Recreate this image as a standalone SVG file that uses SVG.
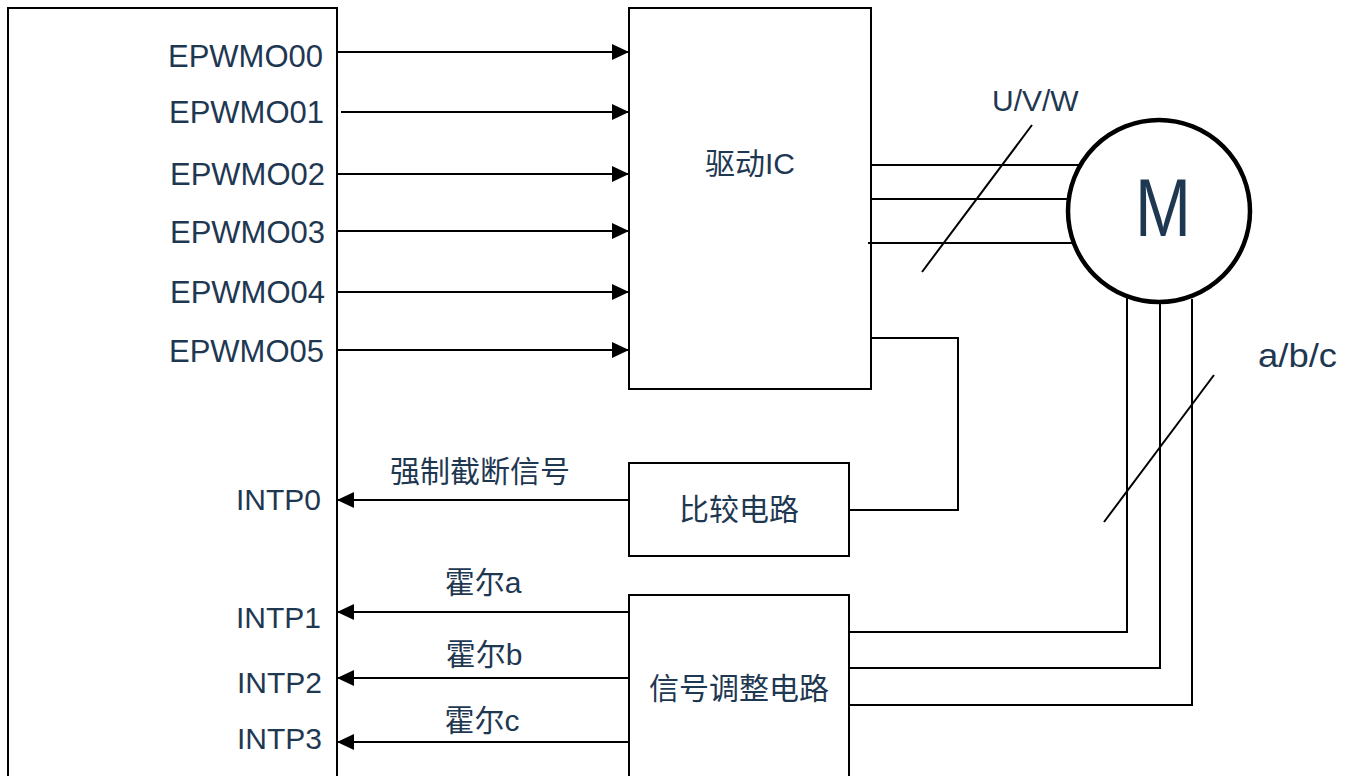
<svg xmlns="http://www.w3.org/2000/svg" width="1351" height="776" viewBox="0 0 1351 776">
<defs>
<style>
.box{fill:#fff;stroke:#000;stroke-width:2}
.ln{fill:none;stroke:#000;stroke-width:2}
.t{font-family:"Liberation Sans","Noto Sans CJK SC",sans-serif;font-size:30px;fill:#1F3852}
.p{font-size:31px}
.e{text-anchor:end}
.m{text-anchor:middle}
</style>
<marker id="ah" markerUnits="userSpaceOnUse" markerWidth="18" markerHeight="16" refX="17" refY="8" orient="auto">
<path d="M0,0 L17,8 L0,16 z" fill="#000"/>
</marker>
</defs>
<rect width="1351" height="776" fill="#fff"/>
<g id="mcu">
<rect class="box" x="8" y="8" width="329" height="800"/>
<text class="t p e" x="323" y="67">EPWMO00</text>
<text class="t p e" x="324" y="123">EPWMO01</text>
<text class="t p e" x="325" y="185">EPWMO02</text>
<text class="t p e" x="325" y="243">EPWMO03</text>
<text class="t p e" x="325" y="303">EPWMO04</text>
<text class="t p e" x="324" y="362">EPWMO05</text>
<text class="t e" x="321" y="510">INTP0</text>
<text class="t e" x="321" y="628">INTP1</text>
<text class="t e" x="322" y="693">INTP2</text>
<text class="t e" x="322" y="749">INTP3</text>
</g>
<g id="driver-ic">
<rect class="box" x="629" y="8" width="242" height="381"/>
<text class="t m" x="750" y="174">驱动IC</text>
</g>
<g id="compare">
<rect class="box" x="629" y="463" width="220" height="93"/>
<text class="t m" x="739" y="520">比较电路</text>
</g>
<g id="signal">
<rect class="box" x="629" y="595" width="220" height="200"/>
<text class="t m" x="739" y="699">信号调整电路</text>
</g>
<g id="motor">
<circle cx="1159" cy="211" r="91" fill="#fff" stroke="#000" stroke-width="4.5"/>
<text class="t" x="1135" y="236" style="font-size:82px" textLength="56" lengthAdjust="spacingAndGlyphs">M</text>
</g>
<g id="connectors">
<line class="ln" x1="337" y1="52" x2="629" y2="52" marker-end="url(#ah)"/>
<line class="ln" x1="341" y1="112" x2="629" y2="112" marker-end="url(#ah)"/>
<line class="ln" x1="337" y1="174" x2="629" y2="174" marker-end="url(#ah)"/>
<line class="ln" x1="337" y1="231" x2="629" y2="231" marker-end="url(#ah)"/>
<line class="ln" x1="337" y1="292" x2="629" y2="292" marker-end="url(#ah)"/>
<line class="ln" x1="337" y1="350" x2="629" y2="350" marker-end="url(#ah)"/>
<line class="ln" x1="629" y1="500" x2="337" y2="500" marker-end="url(#ah)"/>
<line class="ln" x1="629" y1="612" x2="337" y2="612" marker-end="url(#ah)"/>
<line class="ln" x1="629" y1="678" x2="337" y2="678" marker-end="url(#ah)"/>
<line class="ln" x1="629" y1="742" x2="337" y2="742" marker-end="url(#ah)"/>
<polyline class="ln" points="871,338 958,338 958,510 849,510"/>
<line class="ln" x1="871" y1="165" x2="1081" y2="165"/>
<line class="ln" x1="871" y1="199" x2="1069" y2="199"/>
<line class="ln" x1="868" y1="243" x2="1074" y2="243"/>
<line class="ln" x1="1032" y1="125" x2="922" y2="272"/>
<polyline class="ln" points="849,632 1127,632 1127,294"/>
<polyline class="ln" points="849,668 1160,668 1160,302"/>
<polyline class="ln" points="849,705 1192,705 1192,299"/>
<line class="ln" x1="1214" y1="375" x2="1104" y2="522"/>
</g>
<g id="labels">
<text class="t" x="992" y="111">U/V/W</text>
<text class="t" x="1258" y="367" style="font-size:34px" textLength="79" lengthAdjust="spacingAndGlyphs">a/b/c</text>
<text class="t m" x="480" y="482">强制截断信号</text>
<text class="t m" x="483" y="593">霍尔a</text>
<text class="t m" x="484" y="665">霍尔b</text>
<text class="t m" x="482" y="731">霍尔c</text>
</g>
</svg>
